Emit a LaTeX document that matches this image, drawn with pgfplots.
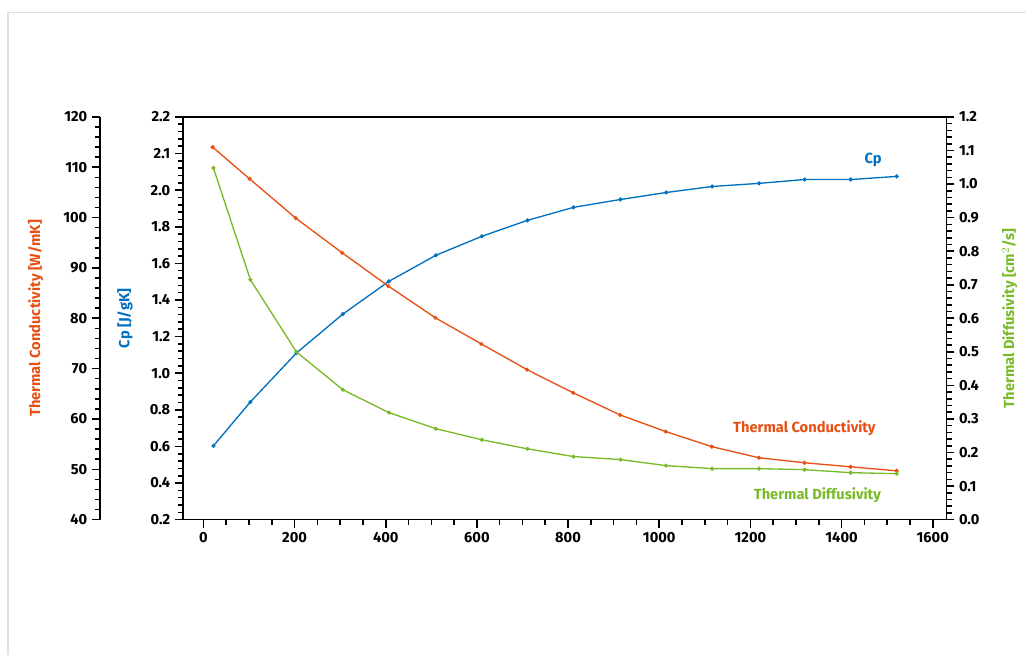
\documentclass[border=0pt]{standalone}
\usepackage{pgfplots}
\pgfplotsset{compat=1.18}
\usepackage{fontspec}
\setmainfont{Fira Sans}
\definecolor{cpb}{RGB}{0,112,192}
\definecolor{tco}{RGB}{230,80,20}
\definecolor{tdg}{RGB}{122,186,40}
\pgfplotstableread{
x cp tc td
22 0.603 114.0 1.048
103 0.843 107.7 0.715
204 1.110 99.9 0.500
306 1.323 93.0 0.387
407 1.502 86.4 0.319
510 1.644 80.1 0.271
611 1.748 74.9 0.238
711 1.835 69.8 0.211
812 1.906 65.2 0.188
915 1.949 60.8 0.179
1015 1.987 57.5 0.161
1116 2.020 54.5 0.152
1219 2.037 52.3 0.152
1319 2.058 51.3 0.149
1420 2.058 50.5 0.140
1521 2.075 49.7 0.137
}\data
\begin{document}
\begin{tikzpicture}[x=1pt,y=1pt,font=\bfseries\fontsize{11}{13}\selectfont]
\path (0,0) rectangle (770.25,491.25);
\draw[gray!25,line width=1pt] (6,0) -- (6,482) -- (770.25,482);
\pgfplotsset{every axis/.append style={scale only axis,height=302.25pt,
  /pgf/number format/assume math mode=true,
  tick label style={font=\bfseries\fontsize{11}{13}\selectfont},
  label style={font=\bfseries\fontsize{11}{13}\selectfont},
  major tick style={draw=black,line width=1.2pt},
  extra tick style={major tick length=4pt, tick style={draw=black,line width=1.1pt}},
  axis line style={line width=1.2pt},
  every axis plot/.append style={line width=1pt, mark=*, mark size=1pt}}}
% main axis: Cp
\begin{axis}[at={(137.25pt,101.25pt)},anchor=south west,width=573pt,
  xmin=-45,xmax=1630,ymin=0.2,ymax=2.4,
  axis x line*=bottom, axis y line*=left,
  tick align=outside, major tick length=6pt,
  xtick={0,200,...,1600},
  extra x ticks={-50,0,...,1600}, extra x tick labels={},
  scaled x ticks=false, xticklabel style={/pgf/number format/1000 sep={}},
  ytick={0.2,0.4,...,2.4}, yticklabels={0.2,0.4,0.6,0.8,1.0,1.2,1.4,1.6,1.8,2.0,2.1,2.2},
  extra y ticks={0.2,0.24,...,2.41}, extra y tick labels={},
  ylabel={Cp [J/gK]}, ylabel style={color=cpb,yshift=-4pt},
  clip=false]
\addplot[cpb] table[x=x,y=cp]{\data};
\draw[line width=1.2pt] (rel axis cs:0,1) -- (rel axis cs:1,1);
\node[cpb] at (rel axis cs:0.904,0.893) {Cp};
\node[tco] at (rel axis cs:0.814,0.228) {Thermal Conductivity};
\node[tdg] at (rel axis cs:0.831,0.062) {Thermal Diffusivity};
\end{axis}
% TC axis
\begin{axis}[at={(75pt,101.25pt)},anchor=south west,width=635.25pt,
  xmin=-225,xmax=1630,ymin=40,ymax=120,
  axis x line=none, axis y line*=left,
  tick align=outside, major tick length=6pt,
  ytick={40,50,...,120},
  extra y ticks={40,42,...,120}, extra y tick labels={},
  ylabel={Thermal Conductivity [W/mK]}, ylabel style={color=tco,yshift=-2pt},
  clip=false]
\addplot[tco] table[x=x,y=tc]{\data};
\end{axis}
% TD axis
\begin{axis}[at={(137.25pt,101.25pt)},anchor=south west,width=573pt,
  xmin=-45,xmax=1630,ymin=0,ymax=1.2,
  axis x line=none, axis y line*=right,
  tick align=outside, major tick length=6pt,
  ytick={0,0.1,...,1.2},
  extra y ticks={0,0.02,...,1.21}, extra y tick labels={},
  yticklabel style={/pgf/number format/.cd,fixed,fixed zerofill,precision=1},
  ylabel={Thermal Diffusivity [cm$^2$/s]}, ylabel style={color=tdg},
  clip=false]
\addplot[tdg] table[x=x,y=td]{\data};
\end{axis}
\end{tikzpicture}
\end{document}
